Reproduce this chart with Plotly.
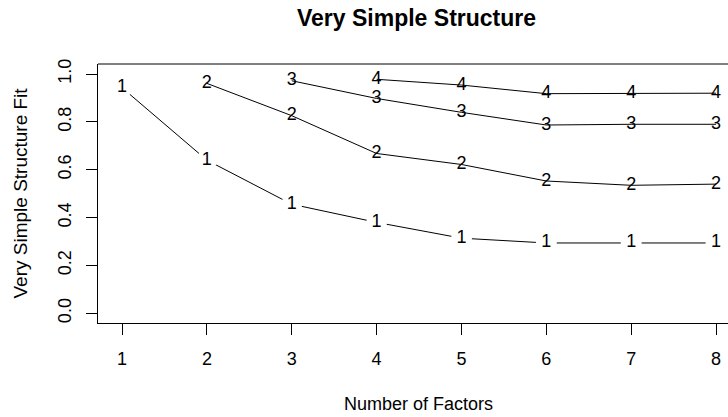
import plotly.graph_objects as go

factors = [1, 2, 3, 4, 5, 6, 7, 8]
complexity_labels = ["1", "2", "3", "4"]
fit_c1 = [0.943, 0.640, 0.456, 0.380, 0.314, 0.294, 0.294, 0.294]
fit_c2 = [None, 0.961, 0.826, 0.668, 0.622, 0.553, 0.535, 0.540]
fit_c3 = [None, None, 0.972, 0.898, 0.840, 0.787, 0.790, 0.790]
fit_c4 = [None, None, None, 0.978, 0.954, 0.918, 0.918, 0.920]
series = [fit_c1, fit_c2, fit_c3, fit_c4]

x_ticks = [1, 2, 3, 4, 5, 6, 7, 8]
y_ticks = [0.0, 0.2, 0.4, 0.6, 0.8, 1.0]
y_ticktext = ["0.0", "0.2", "0.4", "0.6", "0.8", "1.0"]

FONT = "Liberation Sans, Arial, sans-serif"

fig = go.Figure()
for i, vals in enumerate(series):
    xs = [f for f, v in zip(factors, vals) if v is not None]
    ys = [v for v in vals if v is not None]
    lab = [complexity_labels[i]] * len(xs)
    if i == 0:
        fig.add_trace(go.Scatter(
            x=xs, y=ys, mode="lines+markers+text", text=lab,
            textposition="middle center",
            textfont=dict(family=FONT, size=18, color="#000"),
            line=dict(color="#000", width=1),
            marker=dict(symbol="circle", size=21, color="white", line=dict(width=0)),
            showlegend=False, hoverinfo="skip"))
    else:
        fig.add_trace(go.Scatter(
            x=xs, y=ys, mode="lines+text", text=lab,
            textposition="middle center",
            textfont=dict(family=FONT, size=18, color="#000"),
            line=dict(color="#000", width=1),
            showlegend=False, hoverinfo="skip"))

fig.update_layout(
    width=728, height=417,
    margin=dict(l=98, r=0, t=64, b=94),
    paper_bgcolor="white", plot_bgcolor="white",
    font=dict(family=FONT, size=18, color="#000"),
    xaxis=dict(range=[0.717, 8.141], tickvals=x_ticks, ticktext=[str(t) for t in x_ticks],
               showgrid=False, zeroline=False, showline=True, linecolor="#000", linewidth=1,
               ticks="outside", ticklen=11, tickcolor="#000", tickwidth=1,
               ticklabelstandoff=8, tickfont=dict(size=18)),
    yaxis=dict(range=[-0.0405, 1.042], tickvals=y_ticks, ticktext=y_ticktext,
               showgrid=False, zeroline=False, showline=True, linecolor="#000", linewidth=1,
               ticks="outside", ticklen=11, tickcolor="#000", tickwidth=1, tickangle=-90,
               ticklabelstandoff=8, tickfont=dict(size=18)),
    shapes=[dict(type="line", xref="paper", yref="paper", x0=0, x1=1.05, y0=1, y1=1,
                 line=dict(color="#000", width=1))],
    annotations=[
        dict(text="<b>Very Simple Structure</b>", xref="paper", yref="paper", x=0.5056, y=1.1776,
             xanchor="center", yanchor="middle", showarrow=False, font=dict(size=23)),
        dict(text="Number of Factors", xref="paper", yref="paper", x=0.5095, y=-0.3127,
             xanchor="center", yanchor="middle", showarrow=False, font=dict(size=18)),
        dict(text="Very Simple Structure Fit", xref="paper", yref="paper", x=-0.1238, y=0.5,
             xanchor="center", yanchor="middle", textangle=-90, showarrow=False, font=dict(size=19)),
    ],
)

fig.write_html("out.html", config={"displayModeBar": False},
               post_script="document.body.style.margin='0px';document.body.style.overflow='hidden';")
